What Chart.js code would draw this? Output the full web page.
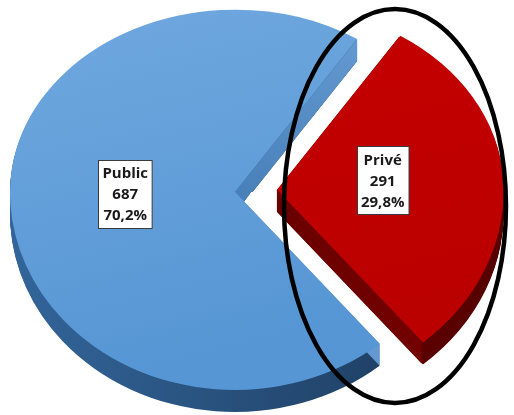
<!DOCTYPE html>
<html>
<head>
<meta charset="utf-8">
<title>Public / Privé</title>
<script src="https://cdn.jsdelivr.net/npm/chart.js@4.4.1/dist/chart.umd.min.js"></script>
<style>
  html, body { margin: 0; padding: 0; background: #fff; }
  #wrap { position: relative; width: 514px; height: 415px; }
</style>
</head>
<body>
<div id="wrap"><canvas id="pieChart"></canvas></div>
<script>
// data
const categories = ['Public', 'Privé'];
const counts = [687, 291];

// look
const explodePx = [0, 42];         // how far each slice is pulled out
const faceTop = ['#70a8df', '#c60000'];
const faceBottom = ['#5696d4', '#bb0000'];
const rimLight = ['#33659a', '#740000'];
const rimDark = ['#1c3a5c', '#560000'];
const cutNear = ['#4a80b9', '#6a0000'];
const cutFar = ['#6399d0', '#720000'];
const TILT_FAR = 0.81;             // back half of the disc looks flatter
const TILT_NEAR = 0.88;
const DEPTH = 22;                  // thickness of the disc, px
const RADIUS = 225;
const LABEL_POS = 0.48;
const LABEL_FONT = 'bold 15px "Open Sans", sans-serif';
const LINE_H = 21;

const total = counts.reduce((a, b) => a + b, 0);
const pctLabels = counts.map(v => (v * 100 / total).toFixed(1).replace('.', ',') + '%');

function faceGradient(ctx, chart, c1, c2) {
  const a = chart.chartArea;
  if (!a) return c1;
  const g = ctx.createLinearGradient(a.left, a.top - 20, a.left + 120, a.bottom + 20);
  g.addColorStop(0, c1);
  g.addColorStop(1, c2);
  return g;
}

function setTilt(ctx, cx, cy, k) {
  ctx.translate(cx, cy);
  ctx.scale(1, k);
  ctx.translate(-cx, -cy);
}

// draws a copy of an arc element moved down by dy, with another fill
function drawGhost(ctx, arc, fill, dy) {
  const ghost = Object.assign(Object.create(Object.getPrototypeOf(arc)), arc);
  ghost.options = Object.assign({}, arc.options, { backgroundColor: fill, borderWidth: 0 });
  ctx.save();
  ctx.translate(0, dy);
  ghost.draw(ctx);
  ctx.restore();
}

// flat cut face along one radial edge of a slice
function drawCut(ctx, arc, angle, i, dy) {
  const mid = (arc.startAngle + arc.endAngle) / 2;
  const off = (arc.options.offset || 0) / 4;
  const x0 = arc.x + Math.cos(mid) * off;
  const y0 = arc.y + Math.sin(mid) * off;
  const x1 = x0 + Math.cos(angle) * arc.outerRadius;
  const y1 = y0 + Math.sin(angle) * arc.outerRadius;
  const g = ctx.createLinearGradient(x0, y0, x1, y1);
  g.addColorStop(0, cutNear[i]);
  g.addColorStop(1, cutFar[i]);
  ctx.beginPath();
  ctx.moveTo(x0, y0);
  ctx.lineTo(x1, y1);
  ctx.lineTo(x1, y1 + dy);
  ctx.lineTo(x0, y0 + dy);
  ctx.closePath();
  ctx.fillStyle = g;
  ctx.fill();
}

// rim and cut faces under the slices, optionally the top faces too
function drawSolid(ctx, arcs, k, withFaces) {
  const cx = arcs[0].x;
  const rims = arcs.map((arc, i) => {
    const g = ctx.createLinearGradient(cx - RADIUS, 0, cx + RADIUS, 0);
    g.addColorStop(0, rimLight[i]);
    g.addColorStop(1, rimDark[i]);
    return g;
  });
  for (let d = DEPTH; d > 0; d--) {
    arcs.forEach((arc, i) => drawGhost(ctx, arc, rims[i], d / k));
  }
  arcs.forEach((arc, i) => {
    drawCut(ctx, arc, arc.startAngle, i, DEPTH / k);
    drawCut(ctx, arc, arc.endAngle, i, DEPTH / k);
  });
  if (withFaces) {
    arcs.forEach(arc => drawGhost(ctx, arc, arc.options.backgroundColor, 0));
  }
}

const tiltPlugin = {
  id: 'tilt3d',
  beforeDatasetsDraw(chart) {
    const ctx = chart.ctx;
    const arcs = chart.getDatasetMeta(0).data;
    if (!arcs.length) return;
    const cx = arcs[0].x, cy = arcs[0].y;
    const W = chart.width, H = chart.height;

    // back half, flatter
    ctx.save();
    ctx.beginPath();
    ctx.rect(0, 0, W, cy);
    ctx.clip();
    setTilt(ctx, cx, cy, TILT_FAR);
    drawSolid(ctx, arcs, TILT_FAR, true);
    ctx.restore();

    // front half: the chart draws its own slices on top of this
    ctx.save();
    ctx.beginPath();
    ctx.rect(0, cy, W, H - cy);
    ctx.clip();
    setTilt(ctx, cx, cy, TILT_NEAR);
    drawSolid(ctx, arcs, TILT_NEAR, false);
  },
  afterDatasetsDraw(chart) {
    const ctx = chart.ctx;
    const arcs = chart.getDatasetMeta(0).data;
    if (!arcs.length) return;
    ctx.restore();

    // value boxes
    const cx = arcs[0].x, cy = arcs[0].y;
    ctx.save();
    ctx.font = LABEL_FONT;
    ctx.textAlign = 'center';
    ctx.textBaseline = 'middle';
    arcs.forEach((arc, i) => {
      const mid = (arc.startAngle + arc.endAngle) / 2;
      const dist = (arc.options.offset || 0) / 4 + LABEL_POS * arc.outerRadius;
      const k = Math.sin(mid) < 0 ? TILT_FAR : TILT_NEAR;
      const x = cx + Math.cos(mid) * dist - 2;
      const y = cy + Math.sin(mid) * dist * k - 4;
      const lines = [categories[i], String(counts[i]), pctLabels[i]];
      const w = Math.max(...lines.map(t => ctx.measureText(t).width)) + 8;
      const h = lines.length * LINE_H + 5;
      const bx = Math.round(x - w / 2) + 0.5, by = Math.round(y - h / 2) + 0.5;
      ctx.fillStyle = '#ffffff';
      ctx.fillRect(bx, by, w, h);
      ctx.strokeStyle = '#3a3a3a';
      ctx.lineWidth = 1;
      ctx.strokeRect(bx, by, w, h);
      ctx.fillStyle = '#1a1a1a';
      lines.forEach((t, n) => ctx.fillText(t, x, y + (n - 1) * LINE_H + 1));
    });
    ctx.restore();
  },
  afterDraw(chart) {
    // ring around the private sector
    const ctx = chart.ctx;
    ctx.save();
    ctx.beginPath();
    ctx.ellipse(395, 206, 111, 197, 0, 0, Math.PI * 2);
    ctx.lineWidth = 4.5;
    ctx.strokeStyle = '#000';
    ctx.stroke();
    ctx.restore();
  }
};

new Chart(document.getElementById('pieChart'), {
  type: 'pie',
  data: {
    labels: categories,
    datasets: [{
      data: counts,
      backgroundColor: c => faceGradient(c.chart.ctx, c.chart, faceTop[c.dataIndex], faceBottom[c.dataIndex]),
      borderWidth: 0,
      offset: explodePx.map(v => v * 4),
      clip: false
    }]
  },
  options: {
    responsive: true,
    maintainAspectRatio: false,
    animation: false,
    rotation: 140,
    radius: RADIUS,
    layout: { padding: { left: 0, right: 44, top: 0, bottom: 31 } },
    plugins: {
      legend: { display: false },
      tooltip: { enabled: false }
    },
    events: []
  },
  plugins: [tiltPlugin]
});
</script>
</body>
</html>
